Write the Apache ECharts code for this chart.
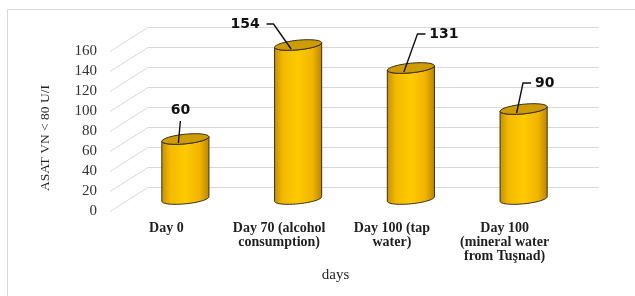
<!DOCTYPE html>
<html>
<head>
<meta charset="utf-8">
<script src="https://cdn.jsdelivr.net/npm/echarts@6/dist/echarts.min.js"></script>
<style>
html, body { margin: 0; padding: 0; background: #fff; }
#chart { width: 635px; height: 296px; }
</style>
</head>
<body>
<div id="chart"></div>
<script>
var categories = ['Day 0', 'Day 70 (alcohol\nconsumption)', 'Day 100 (tap\nwater)', 'Day 100\n(mineral water\nfrom Tuşnad)'];
var asatValues = [60, 154, 131, 90];
var yTicks = [0, 20, 40, 60, 80, 100, 120, 140, 160];

// depth of the fake 3D box: the back wall sits this far right / up
var depthX = 38, depthY = -24;
// value label placement, relative to the top centre of each cylinder
var labelShift = [[-5, -29], [-53, -21], [33, -34], [21, -26]];

function ellPt(cx, cy, rx, ry, a, t) {
    return [
        cx + rx * Math.cos(t) * Math.cos(a) - ry * Math.sin(t) * Math.sin(a),
        cy + rx * Math.cos(t) * Math.sin(a) + ry * Math.sin(t) * Math.cos(a)
    ];
}

function arc(cx, cy, rx, ry, a, t0, t1) {
    var pts = [], n = 24;
    for (var k = 0; k <= n; k++) {
        pts.push(ellPt(cx, cy, rx, ry, a, t0 + (t1 - t0) * k / n));
    }
    return pts;
}

function renderWall(params, api) {
    var cs = params.coordSys;
    var y = Math.round(api.coord([0, api.value(1)])[1]) + 0.5;
    var x0 = cs.x;
    return {
        type: 'polyline',
        silent: true,
        shape: { points: [[x0, y], [x0 + depthX, y + depthY], [x0 + cs.width + depthX, y + depthY]] },
        style: { stroke: '#d9d9d9', lineWidth: 1, fill: null }
    };
}

function renderCylinder(params, api) {
    var i = api.value(0), v = api.value(1);
    var top = api.coord([i, v]), base = api.coord([i, 0]);
    var w = api.size([1, 0])[0] * 0.42;
    var cx = top[0] + depthX / 2;
    var ty = top[1] + depthY / 2, by = base[1] + depthY / 2;
    var rx = w / 2, ry = 4.8, a = -0.1;

    var body = [].concat(
        arc(cx, by, rx, ry, a, Math.PI, 0),
        arc(cx, ty, rx, ry, a, 0, Math.PI)
    );
    var lid = arc(cx, ty, rx, ry, a, 0, Math.PI * 2);

    var sh = labelShift[i];
    var tx = cx + sh[0], tyy = ty + sh[1];
    var anchor = [cx - 7, ty + 4];
    var halfW = String(v).length * 4.8;
    var leader;
    if (Math.abs(sh[0]) < 12) {
        leader = [anchor, [tx, tyy + 11]];
    } else if (sh[0] > 0) {
        leader = [anchor, [tx - halfW - 12, tyy], [tx - halfW - 4, tyy]];
    } else {
        leader = [anchor, [tx + halfW + 14, tyy], [tx + halfW + 7, tyy]];
    }

    return {
        type: 'group',
        children: [
            {
                type: 'polygon',
                shape: { points: body },
                style: {
                    fill: new echarts.graphic.LinearGradient(0, 0, 1, 0, [
                        { offset: 0, color: '#c28e00' },
                        { offset: 0.18, color: '#f2b900' },
                        { offset: 0.5, color: '#ffca00' },
                        { offset: 0.8, color: '#f0b400' },
                        { offset: 1, color: '#b98400' }
                    ]),
                    stroke: '#3a3020',
                    lineWidth: 1
                }
            },
            {
                type: 'polygon',
                shape: { points: lid },
                style: { fill: '#cf9c00', stroke: '#3a3020', lineWidth: 1 }
            },
            {
                type: 'polyline',
                shape: { points: leader },
                style: { stroke: '#111', lineWidth: 1.4, fill: null }
            },
            {
                type: 'text',
                x: tx,
                y: tyy,
                style: {
                    text: String(v),
                    fontFamily: 'DejaVu Sans',
                    fontWeight: 'bold',
                    fontSize: 14,
                    fill: '#111',
                    align: 'center',
                    verticalAlign: 'middle'
                }
            }
        ]
    };
}

var chart = echarts.init(document.getElementById('chart'));
chart.setOption({
    backgroundColor: '#fff',
    animation: false,
    graphic: [{
        type: 'rect',
        x: 7.5, y: 9.5,
        shape: { width: 640, height: 300 },
        style: { fill: null, stroke: '#d9d9d9', lineWidth: 1 },
        silent: true
    }],
    grid: { left: 110, right: 74, top: 51, bottom: 85 },
    xAxis: {
        type: 'category',
        data: categories,
        axisLine: { show: false },
        axisTick: { show: false },
        axisLabel: {
            interval: 0,
            margin: 10,
            fontFamily: 'Liberation Serif',
            fontWeight: 'bold',
            fontSize: 14,
            lineHeight: 14,
            color: '#1f1f1f'
        },
        name: 'days',
        nameLocation: 'middle',
        nameGap: 55,
        nameTextStyle: { fontFamily: 'Liberation Serif', fontSize: 15, color: '#262626' }
    },
    yAxis: {
        type: 'value',
        min: yTicks[0],
        max: yTicks[yTicks.length - 1],
        interval: yTicks[1] - yTicks[0],
        axisLine: { show: false },
        axisTick: { show: false },
        splitLine: { show: false },
        axisLabel: {
            margin: 13,
            fontFamily: 'Liberation Serif',
            fontSize: 15,
            color: '#333'
        },
        name: 'ASAT VN < 80 U/I',
        nameLocation: 'middle',
        nameRotate: 90,
        nameGap: 58,
        nameTextStyle: { fontFamily: 'Liberation Serif', fontSize: 13.5, color: '#262626', padding: [0, 14, 0, 0] }
    },
    series: [
        {
            type: 'custom',
            renderItem: renderWall,
            data: yTicks.map(function (t) { return [0, t]; }),
            encode: { x: 0, y: 1 },
            silent: true,
            z: 1
        },
        {
            type: 'custom',
            renderItem: renderCylinder,
            data: asatValues.map(function (v, i) { return [i, v]; }),
            encode: { x: 0, y: 1 },
            z: 2
        }
    ]
});
</script>
</body>
</html>
